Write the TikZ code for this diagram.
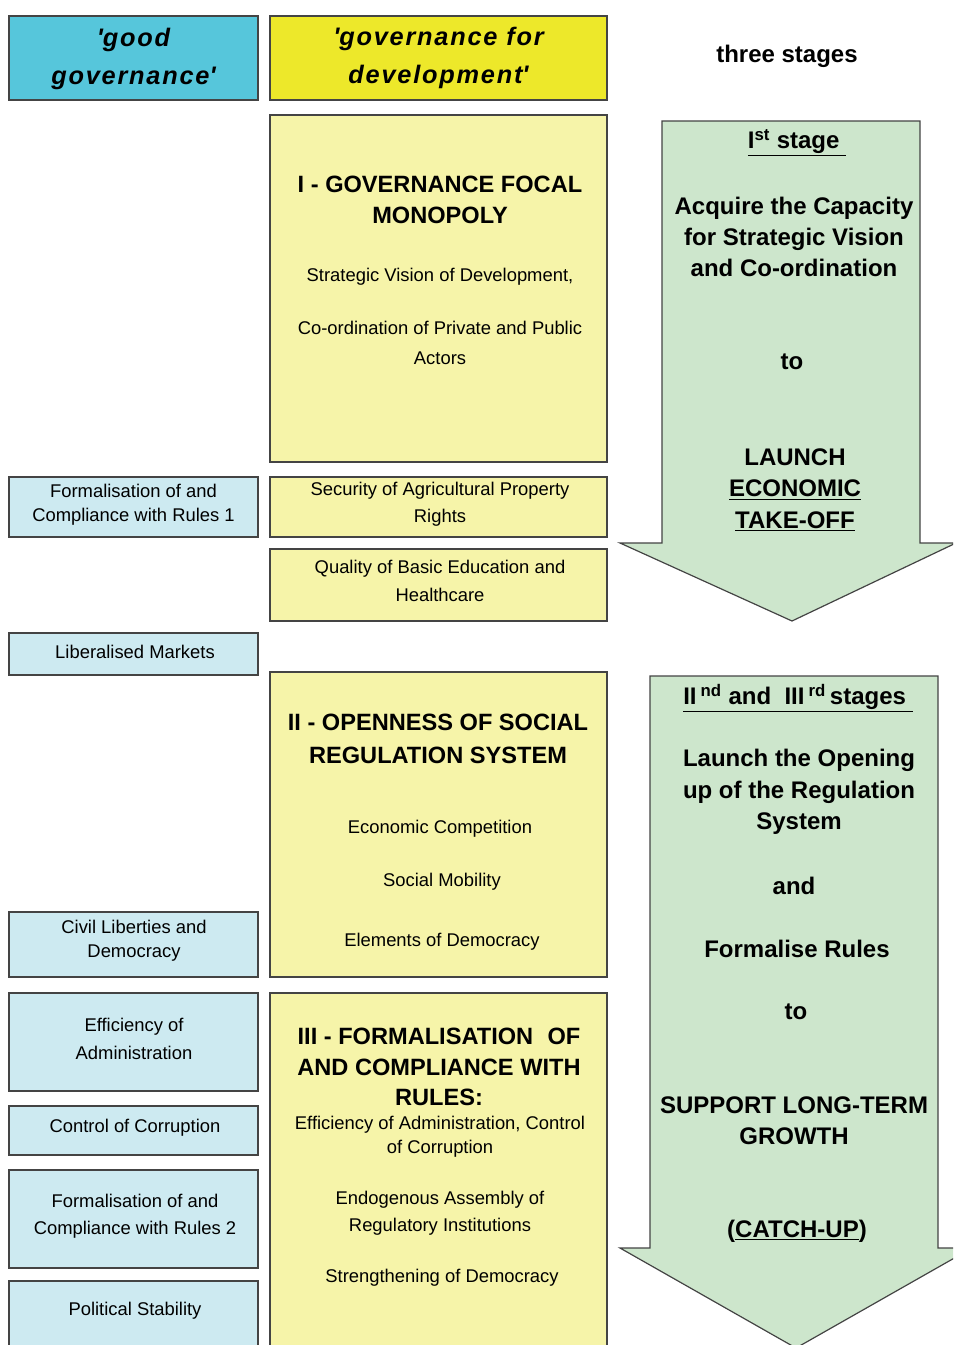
\documentclass[tikz,border=0pt]{standalone}
\usepackage{fontspec}
\setmainfont{Liberation Sans}
\definecolor{hdblue}{HTML}{56C6DB}
\definecolor{hdyellow}{HTML}{EDE82A}
\definecolor{lyellow}{HTML}{F6F4A9}
\definecolor{lblue}{HTML}{CDEAF1}
\definecolor{lgreen}{HTML}{CDE6CC}
\definecolor{edge}{HTML}{444444}
\begin{document}
\begin{tikzpicture}[x=0.75pt,y=-0.75pt,
  frame/.style={draw=edge,line width=0.9pt},
  bluebox/.style={frame,fill=lblue},
  ylwbox/.style={frame,fill=lyellow},
  greenarrow/.style={frame,fill=lgreen,line join=miter},
  small/.style={align=center,inner sep=0pt,font=\fontsize{13.8}{18}\selectfont},
  smallw/.style={align=center,inner sep=0pt,font=\fontsize{13.8}{20.5}\selectfont},
  head/.style={align=center,inner sep=0pt,font=\fontsize{17.7}{23}\bfseries\selectfont},
  stage/.style={align=center,inner sep=0pt,font=\fontsize{18}{23.5}\bfseries\selectfont},
  title/.style={align=center,inner sep=0pt,font=\fontsize{19}{28.5}\bfseries\itshape\addfontfeature{LetterSpace=7}\selectfont}
]
\useasboundingbox (0,0) rectangle (953,1345);
\clip (0,0) rectangle (953,1345);

% header boxes
\draw[frame,fill=hdblue] (9,16) rectangle (258,100);
\node[title] (tgood) at (133.5,59) {\textquotesingle good\\governance\textquotesingle};
\draw[frame,fill=hdyellow] (270,16) rectangle (607,100);
\node[title] (tgfd) at (438.5,58) {\textquotesingle governance for\\development\textquotesingle};
\node[stage] (tthree) at (787,56) {three stages};

% stage arrows
\draw[greenarrow] (662,121) -- (920,121) -- (920,543) -- (956,543) -- (792,621) -- (620,543) -- (662,543) -- cycle;
\node[stage] (s1a) at (797,143) {\underline{I\textsuperscript{st} stage\ }};
\node[stage] (s1b) at (794,237) {Acquire the Capacity\\for Strategic Vision\\and Co-ordination};
\node[stage] (s1c) at (792,362) {to};
\node[stage] (s1d) at (795,490) {LAUNCH\\\underline{ECONOMIC}\\\underline{TAKE-OFF}};

\draw[greenarrow] (650,676) -- (938,676) -- (938,1248) -- (972,1248) -- (796,1348) -- (620,1248) -- (650,1248) -- cycle;
\node[stage] (s2a) at (798,698) {\underline{II\,\textsuperscript{nd}\ and\ \ III\,\textsuperscript{rd}\,stages\ }};
\node[stage] (s2b) at (799,792) {Launch the Opening\\up of the Regulation\\System};
\node[stage] (s2c) at (794,886) {and};
\node[stage] (s2d) at (797,949) {Formalise Rules};
\node[stage] (s2e) at (796,1012) {to};
\node[stage] (s2f) at (794,1121) {SUPPORT LONG-TERM\\GROWTH};
\node[stage] (s2g) at (797,1231) {(\underline{CATCH-UP})};

% middle column
\draw[ylwbox] (270,115) rectangle (607,462);
\node[head] (h1) at (440,200) {I - GOVERNANCE FOCAL\\MONOPOLY};
\node[small] (m1a) at (440,277) {Strategic Vision of Development,};
\node[small,font=\fontsize{13.8}{22.5}\selectfont] (m1b) at (440,343) {Co-ordination of Private and Public\\Actors};

\draw[ylwbox] (270,477) rectangle (607,537);
\node[smallw] (m2) at (440,504) {Security of Agricultural Property\\Rights};
\draw[ylwbox] (270,549) rectangle (607,621);
\node[smallw] (m3) at (440,581) {Quality of Basic Education and\\Healthcare};

\draw[ylwbox] (270,672) rectangle (607,977);
\node[head,font=\fontsize{17.7}{25}\bfseries\selectfont] (h2) at (438,739) {II - OPENNESS OF SOCIAL\\REGULATION SYSTEM};
\node[small] (m4a) at (440,829) {Economic Competition};
\node[small] (m4b) at (442,882) {Social Mobility};
\node[small] (m4c) at (442,942) {Elements of Democracy};

\draw[ylwbox] (270,993) rectangle (607,1360);
\node[head] (h3) at (439,1067) {III - FORMALISATION\,\, OF\\AND COMPLIANCE WITH\\RULES:};
\node[small] (m5a) at (440,1137) {Efficiency of Administration, Control\\of Corruption};
\node[smallw] (m5b) at (440,1213) {Endogenous Assembly of\\Regulatory Institutions};
\node[small] (m5c) at (442,1278) {Strengthening of Democracy};

% left column
\draw[bluebox] (9,477) rectangle (258,537);
\node[small] (l1) at (133.5,505) {Formalisation of and\\Compliance with Rules 1};
\draw[bluebox] (9,633) rectangle (258,675);
\node[small] (l2) at (135,652) {Liberalised Markets};
\draw[bluebox] (9,912) rectangle (258,977);
\node[small] (l3) at (134,941) {Civil Liberties and\\Democracy};
\draw[bluebox] (9,993) rectangle (258,1091);
\node[smallw] (l4) at (134,1039) {Efficiency of\\Administration};
\draw[bluebox] (9,1106) rectangle (258,1155);
\node[small] (l5) at (135,1128) {Control of Corruption};
\draw[bluebox] (9,1170) rectangle (258,1268);
\node[smallw] (l6) at (135,1216) {Formalisation of and\\Compliance with Rules 2};
\draw[bluebox] (9,1281) rectangle (258,1360);
\node[small] (l7) at (135,1311) {Political Stability};
\end{tikzpicture}
\end{document}
